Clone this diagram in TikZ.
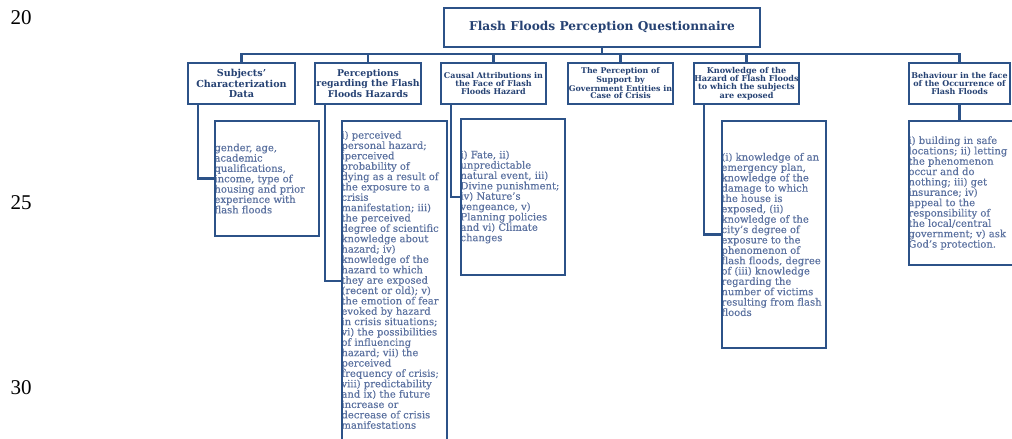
\documentclass[tikz,border=0pt]{standalone}
\usepackage{fontspec}
\setmainfont{DejaVu Serif}
\newfontfamily\bodyfont[FakeBold=0.4]{DejaVu Serif}
\newfontfamily\numfont{Liberation Serif}
\usetikzlibrary{calc}
\definecolor{bordc}{RGB}{44,82,136}
\definecolor{headc}{RGB}{38,66,115}
\definecolor{bodyc}{RGB}{92,114,160}
\tikzset{
  hbox/.style={draw=bordc, line width=2.5pt, fill=white, inner sep=0pt, align=center, text=headc},
  cbox/.style={inner sep=0pt},
  cborder/.style={draw=bordc, line width=2.5pt},
  ctext/.style={inner sep=0pt, align=left, text=bodyc, font=\bodyfont\fontsize{10}{10.36}\selectfont},
  conn/.style={draw=bordc, line width=2.5pt},
  numtext/.style={inner sep=0pt, text=black, font=\numfont\fontsize{21}{21}\selectfont},
}
\begin{document}
\begin{tikzpicture}[x=1pt,y=-1pt]
\useasboundingbox (0,0) rectangle (1012,439);

% page line numbers
\node[numtext] (n20) at (21,17.5) {20};
\node[numtext] (n25) at (21,203) {25};
\node[numtext] (n30) at (21,388) {30};

% bus coordinate
\coordinate (bus) at (241.5,54);

% top box
\node[hbox, minimum width=316pt, minimum height=39pt, font={\bfseries\fontsize{12.2}{14}\selectfont}] (top) at (602,27.5) {Flash Floods Perception Questionnaire};

% second-level boxes
\node[hbox, minimum width=107pt, minimum height=41pt, font={\bfseries\fontsize{9.6}{10.5}\selectfont}] (b1) at (241.5,83.5) {Subjects’\\Characterization\\Data};
\node[hbox, minimum width=106pt, minimum height=41pt, font={\bfseries\fontsize{9.3}{10.5}\selectfont}] (b2) at (368,83.5) {Perceptions\\regarding the Flash\\Floods Hazards};
\node[hbox, minimum width=105pt, minimum height=41pt, font={\bfseries\fontsize{8}{8.2}\selectfont}] (b3) at (493.5,83.5) {Causal Attributions in\\the Face of Flash\\Floods Hazard};
\node[hbox, minimum width=105pt, minimum height=41pt, font={\bfseries\fontsize{7.9}{7.6}\selectfont}] (b4) at (620.5,83.5) {The Perception of\\Support by\\Government Entities in\\Case of Crisis};
\node[hbox, minimum width=105pt, minimum height=41pt, font={\bfseries\fontsize{8.1}{8.2}\selectfont}] (b5) at (746.5,83.5) {Knowledge of the\\Hazard of Flash Floods\\to which the subjects\\are exposed};
\node[hbox, minimum width=101pt, minimum height=41pt, font={\bfseries\fontsize{8}{8.4}\selectfont}] (b6) at (959.5,83.5) {Behaviour in the face\\of the Occurrence of\\Flash Floods};

% content boxes (frames drawn later)
\node[cbox, minimum width=104pt, minimum height=115pt] (c1) at (267,178.5) {};
\node[cbox, minimum width=105pt, minimum height=320pt] (c2) at (394.5,281) {};
\node[cbox, minimum width=104pt, minimum height=156pt] (c3) at (513,197) {};
\node[cbox, minimum width=104pt, minimum height=227pt] (c5) at (774,234.5) {};
\node[cbox, minimum width=107pt, minimum height=144pt] (c6) at (962.5,193) {};

% connectors
\draw[conn] (top.south) -- (top.south |- bus);
\draw[conn] (b1.north) -- (b1.north |- bus) -- (b6.north |- bus) -- (b6.north);
\draw[conn] (b2.north) -- (b2.north |- bus);
\draw[conn] (b3.north) -- (b3.north |- bus);
\draw[conn] (b4.north) -- (b4.north |- bus);
\draw[conn] (b5.north) -- (b5.north |- bus);
\draw[conn] ($(b1.south west)+(11,0)$) |- (c1.west);
\draw[conn] ($(b2.south west)+(11,0)$) |- (c2.west);
\draw[conn] ($(b3.south west)+(11,0)$) |- (c3.west);
\draw[conn] ($(b5.south west)+(11,0)$) |- (c5.west);
\draw[conn] (b6.south) -- (b6.south |- c6.north);

% content texts, clipped to their frames
\begin{scope}
\clip (c1.north west) rectangle (c1.south east);
\node[ctext, anchor=west] (t1) at ($(c1.west)+(-0.5,0)$) {gender, age,\\academic\\qualifications,\\income, type of\\housing and prior\\experience with\\flash floods};
\end{scope}
\begin{scope}
\clip (c2.north west) rectangle (c2.south east);
\node[ctext, anchor=north west] (t2) at ($(c2.north west)+(-0.5,10)$) {i) perceived\\personal hazard;\\iperceived\\probability of\\dying as a result of\\the exposure to a\\crisis\\manifestation; iii)\\the perceived\\degree of scientific\\knowledge about\\hazard; iv)\\knowledge of the\\hazard to which\\they are exposed\\(recent or old); v)\\the emotion of fear\\evoked by hazard\\in crisis situations;\\vi) the possibilities\\of influencing\\hazard; vii) the\\perceived\\frequency of crisis;\\viii) predictability\\and ix) the future\\increase or\\decrease of crisis\\manifestations};
\end{scope}
\begin{scope}
\clip (c3.north west) rectangle (c3.south east);
\node[ctext, anchor=west] (t3) at ($(c3.west)+(-0.5,0)$) {i) Fate, ii)\\unpredictable\\natural event, iii)\\Divine punishment;\\iv) Nature’s\\vengeance, v)\\Planning policies\\and vi) Climate\\changes};
\end{scope}
\begin{scope}
\clip (c5.north west) rectangle (c5.south east);
\node[ctext, anchor=west] (t5) at ($(c5.west)+(-0.5,0)$) {(i) knowledge of an\\emergency plan,\\knowledge of the\\damage to which\\the house is\\exposed, (ii)\\knowledge of the\\city’s degree of\\exposure to the\\phenomenon of\\flash floods, degree\\of (iii) knowledge\\regarding the\\number of victims\\resulting from flash\\floods};
\end{scope}
\begin{scope}
\clip (c6.north west) rectangle (c6.south east);
\node[ctext, anchor=west] (t6) at ($(c6.west)+(-0.5,0)$) {i) building in safe\\locations; ii) letting\\the phenomenon\\occur and do\\nothing; iii) get\\insurance; iv)\\appeal to the\\responsibility of\\the local/central\\government; v) ask\\God’s protection.};
\end{scope}

% content frames
\draw[cborder] (c1.north west) rectangle (c1.south east);
\draw[cborder] (c2.north west) rectangle (c2.south east);
\draw[cborder] (c3.north west) rectangle (c3.south east);
\draw[cborder] (c5.north west) rectangle (c5.south east);
\draw[cborder] (c6.north west) rectangle (c6.south east);
\end{tikzpicture}
\end{document}
